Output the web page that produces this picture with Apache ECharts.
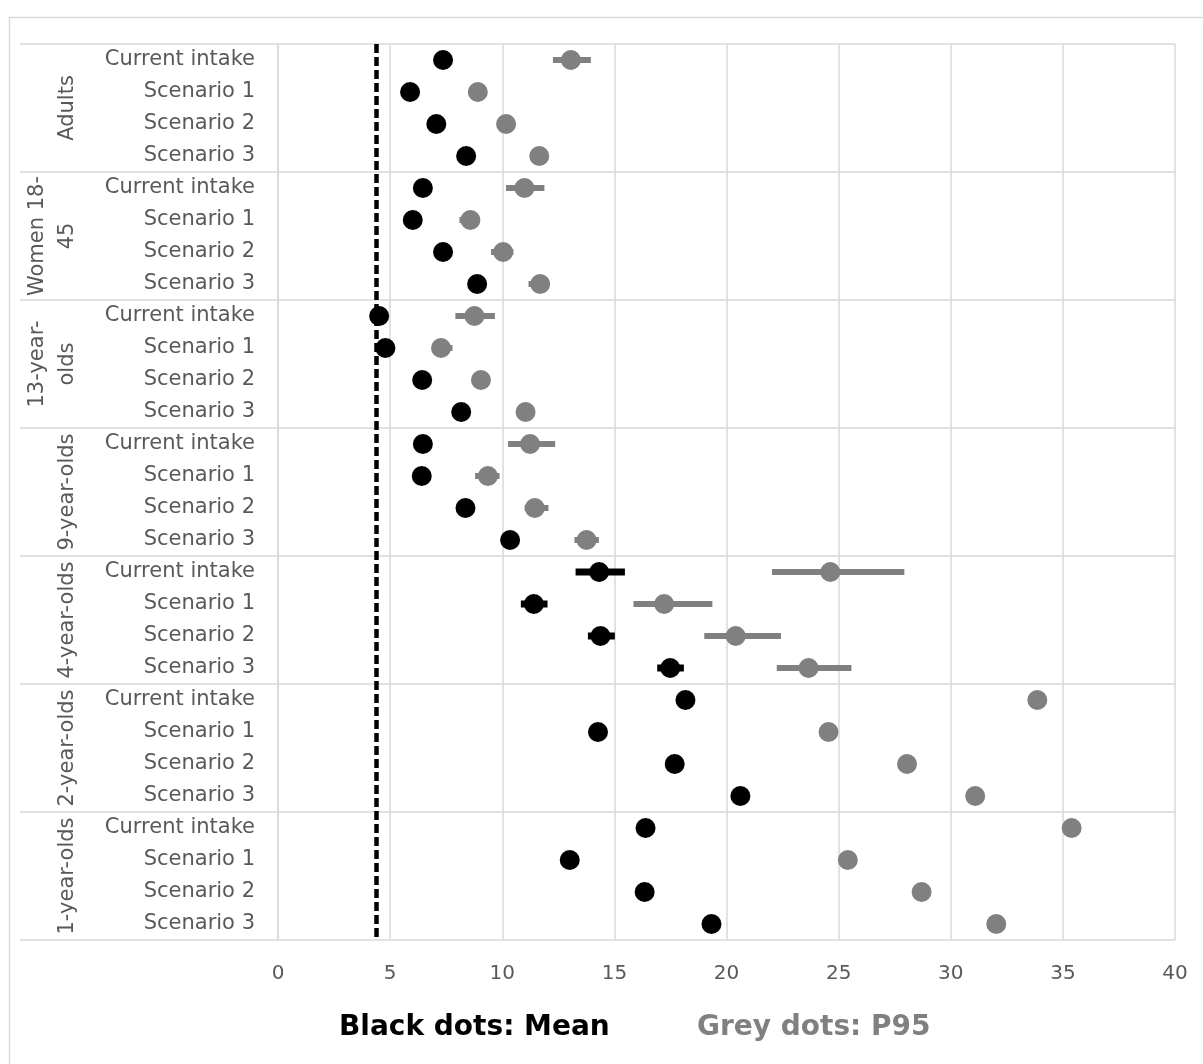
<!DOCTYPE html>
<html>
<head>
<meta charset="utf-8">
<script src="https://cdn.jsdelivr.net/npm/echarts@6/dist/echarts.min.js"></script>
<style>
html,body{margin:0;padding:0;background:#fff;}
#chart{width:1203px;height:1064px;}
</style>
</head>
<body>
<div id="chart"></div>
<script>
// ---- data ----
const groups = ['Adults', 'Women 18-\n45', '13-year-\nolds', '9-year-olds', '4-year-olds', '2-year-olds', '1-year-olds'];
const scenarios = ['Current intake', 'Scenario 1', 'Scenario 2', 'Scenario 3'];
const xTicks = [0, 5, 10, 15, 20, 25, 30, 35, 40];
const referenceLine = 4.37;

// rows in order: for each group, the 4 scenarios
const meanValues = [
  7.36, 5.89, 7.06, 8.39,
  6.46, 6.01, 7.36, 8.88,
  4.51, 4.79, 6.43, 8.17,
  6.46, 6.41, 8.36, 10.35,
  14.32, 11.41, 14.38, 17.49,
  18.17, 14.27, 17.69, 20.62,
  16.39, 13.01, 16.35, 19.33
];
const meanLow = [
  null, null, null, null,
  null, null, null, null,
  null, null, null, null,
  null, null, null, null,
  13.27, 10.83, 13.82, 16.91,
  null, null, null, null,
  null, null, null, null
];
const meanHigh = [
  null, null, null, null,
  null, null, null, null,
  null, null, null, null,
  null, null, null, null,
  15.47, 12.02, 15.02, 18.10,
  null, null, null, null,
  null, null, null, null
];
const p95Values = [
  13.06, 8.91, 10.17, 11.65,
  10.99, 8.58, 10.04, 11.69,
  8.76, 7.27, 9.05, 11.04,
  11.24, 9.36, 11.45, 13.76,
  24.63, 17.22, 20.41, 23.66,
  33.86, 24.55, 28.05, 31.09,
  35.39, 25.41, 28.70, 32.03
];
const p95Low = [
  12.26, null, null, null,
  10.17, 8.09, 9.50, 11.17,
  7.91, 6.90, null, null,
  10.26, 8.79, 11.00, 13.22,
  22.03, 15.85, 19.01, 22.24,
  null, null, null, null,
  null, null, null, null
];
const p95High = [
  13.95, null, null, null,
  11.88, 9.00, 10.50, 12.10,
  9.67, 7.78, null, null,
  12.36, 9.88, 12.06, 14.31,
  27.93, 19.37, 22.43, 25.57,
  null, null, null, null,
  null, null, null, null
];

// ---- build ----
const rowLabels = [];
groups.forEach(() => scenarios.forEach(s => rowLabels.push(s)));

function points(vals) { return vals.map((v, i) => [v, i]); }
function bars(lo, hi) {
  const out = [];
  lo.forEach((l, i) => { if (l != null && hi[i] != null) out.push([l, hi[i], i]); });
  return out;
}
function barRenderer(color, width) {
  return function (params, api) {
    const a = api.coord([api.value(0), api.value(2)]);
    const b = api.coord([api.value(1), api.value(2)]);
    return {
      type: 'line',
      shape: { x1: a[0], y1: a[1], x2: b[0], y2: b[1] },
      style: { stroke: color, lineWidth: width, lineCap: 'butt' }
    };
  };
}

const FONT = 'DejaVu Sans';
const chart = echarts.init(document.getElementById('chart'), null, { renderer: 'canvas' });
chart.setOption({
  animation: false,
  backgroundColor: '#ffffff',
  grid: { left: 278, right: 28, top: 44, bottom: 124, containLabel: false },
  xAxis: {
    type: 'value', min: 0, max: 40, interval: 5,
    axisLine: { show: false }, axisTick: { show: false },
    splitLine: { show: true, lineStyle: { color: '#d9d9d9', width: 1.5 } },
    axisLabel: {
      color: '#595959', fontFamily: FONT, fontSize: 20, margin: 24,
      formatter: v => (xTicks.indexOf(v) >= 0 ? String(v) : '')
    }
  },
  yAxis: [
    {
      type: 'category', data: rowLabels, inverse: true,
      axisLine: { show: true, lineStyle: { color: '#d9d9d9', width: 1.5 } },
      axisTick: { show: false },
      splitLine: { show: false },
      axisLabel: { interval: 0, color: '#595959', fontFamily: FONT, fontSize: 21, margin: 23, padding: [4, 0, 0, 0] }
    },
    {
      type: 'category', data: groups, inverse: true, position: 'left',
      axisLine: { show: false },
      axisTick: { show: true, length: 258, lineStyle: { color: '#d9d9d9', width: 1.5 } },
      splitLine: { show: true, lineStyle: { color: '#d9d9d9', width: 1.5 } },
      axisLabel: {
        interval: 0, rotate: 90, color: '#595959', fontFamily: FONT, fontSize: 21,
        margin: 195, lineHeight: 30
      }
    }
  ],
  graphic: [
    { type: 'rect', left: 7, top: 15, shape: { width: 1260, height: 1120 }, style: { fill: 'none', stroke: '#d9d9d9', lineWidth: 1.5 }, silent: true, z: -10 },
    { type: 'text', left: 339, top: 1014, style: { text: 'Black dots: Mean', fill: '#000000', font: 'bold 28px "DejaVu Sans"' } },
    { type: 'text', left: 697, top: 1014, style: { text: 'Grey dots: P95', fill: '#808080', font: 'bold 28px "DejaVu Sans"' } }
  ],
  series: [
    {
      type: 'line', data: [], yAxisIndex: 0, silent: true, z: 1,
      markLine: {
        silent: true, symbol: 'none', label: { show: false },
        lineStyle: { color: '#000000', width: 4.5, type: [9, 4] },
        data: [{ xAxis: referenceLine }]
      }
    },
    {
      type: 'custom', yAxisIndex: 0, z: 2, silent: true,
      data: bars(p95Low, p95High), encode: { x: [0, 1], y: 2 },
      renderItem: barRenderer('#808080', 6)
    },
    {
      type: 'scatter', yAxisIndex: 0, z: 3, silent: true,
      data: points(p95Values), symbol: 'circle', symbolSize: 20,
      itemStyle: { color: '#808080', opacity: 1 }
    },
    {
      type: 'custom', yAxisIndex: 0, z: 4, silent: true,
      data: bars(meanLow, meanHigh), encode: { x: [0, 1], y: 2 },
      renderItem: barRenderer('#000000', 7)
    },
    {
      type: 'scatter', yAxisIndex: 0, z: 5, silent: true,
      data: points(meanValues), symbol: 'circle', symbolSize: 20,
      itemStyle: { color: '#000000', opacity: 1 }
    }
  ]
});
</script>
</body>
</html>
